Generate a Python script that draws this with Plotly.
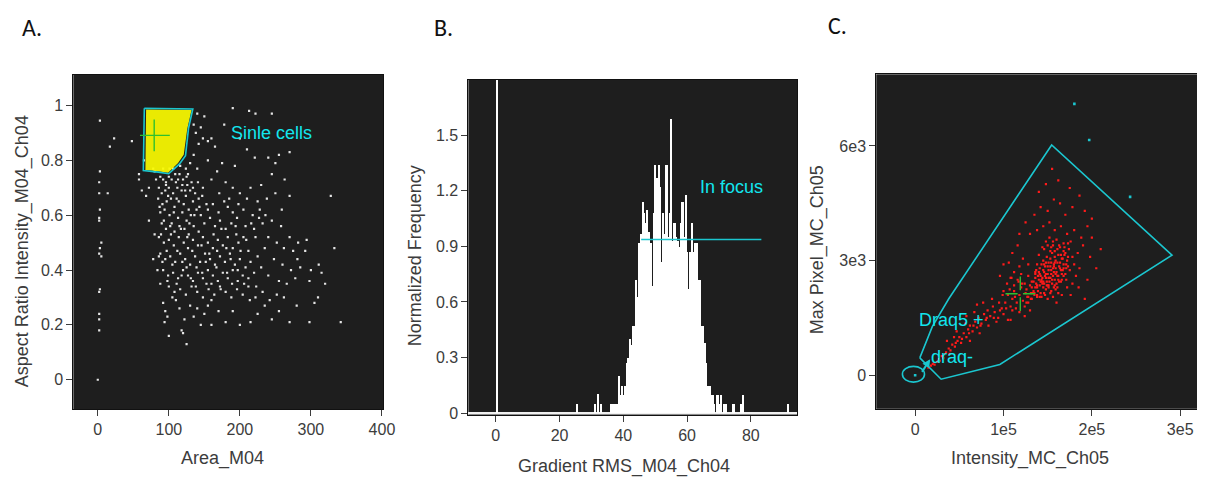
import plotly.graph_objects as go

# ---------------- Panel A data ----------------
area_white = [
    140,150,135,145,138,148,142,155,160,165,
    190,213,222,245,178,200,210,221,240,255,
    270,250,193,175,155,135,130,140,168,245,
    263,230,190,210,250,270,328,180,160,125,
    88,92,96,100,104,110,115,120,126,132,
    86,90,95,100,106,112,118,124,130,137,
    85,91,97,103,108,114,121,128,134,142,
    88,94,101,107,113,119,125,131,139,145,
    72,78,82,92,106,116,124,62,58,148,
    90,96,102,108,115,122,128,135,142,150,
    158,165,172,180,188,195,155,162,170,178,
    86,93,100,107,114,121,127,134,141,148,
    155,162,169,176,183,190,198,205,212,220,
    88,95,102,109,116,123,130,137,144,151,
    158,165,172,179,186,193,200,208,215,225,
    92,99,106,113,120,127,134,141,148,155,
    162,169,176,183,190,197,204,212,220,230,
    100,108,116,124,132,140,148,156,164,172,
    180,188,196,204,212,222,232,242,252,262,
    228,236,245,258,270,282,294,240,252,262,
    275,235,248,260,272,285,300,315,320,333,
    240,255,266,278,298,305,310,255,270,298,
    342,280,245,225,215,200,190,180,170,160,
    222,232,218,205,198,190,185,200,215,225,
    92,95,98,94,100,118,120,125,110,130,
    140,150,115,135,145,160,105,88,122,155,
    3,3,2,2,3,2,2,5,3,2,
    5,3,2,2,2,2,0,14,23,17,
    48,68,80,78,86,80,65,58,72,84,
    87,93,99,104,111,117,123,129,136,143,
    89,97,103,112,119,126,133,139,146,152,
    91,98,105,111,118,125,131,138,147,153,
    96,101,109,113,119,127,134,141,147,153,
    157,163,168,174,181,187,194,201,209,216,
    160,167,173,182,189,197,206,214,223,235,
    171,183,196,208,227,238,259,281,292,311,
]
ratio_white = [
    0.97,0.96,0.93,0.92,0.90,0.88,0.86,0.87,0.88,0.85,
    0.99,0.98,0.97,0.97,0.93,0.88,0.84,0.81,0.81,0.82,
    0.83,0.79,0.78,0.79,0.80,0.82,0.79,0.77,0.76,0.75,
    0.73,0.71,0.70,0.66,0.68,0.67,0.67,0.72,0.73,0.74,
    0.74,0.73,0.72,0.74,0.73,0.72,0.75,0.73,0.71,0.72,
    0.70,0.68,0.69,0.70,0.68,0.70,0.69,0.67,0.69,0.68,
    0.66,0.64,0.65,0.66,0.63,0.65,0.64,0.62,0.65,0.66,
    0.61,0.62,0.60,0.61,0.59,0.61,0.58,0.60,0.62,0.60,
    0.70,0.77,0.73,0.77,0.77,0.78,0.77,0.69,0.75,0.70,
    0.57,0.55,0.56,0.54,0.56,0.55,0.53,0.56,0.54,0.57,
    0.59,0.56,0.58,0.55,0.57,0.53,0.62,0.64,0.61,0.65,
    0.52,0.50,0.51,0.49,0.52,0.50,0.48,0.51,0.49,0.52,
    0.50,0.48,0.51,0.49,0.52,0.48,0.50,0.52,0.47,0.55,
    0.46,0.44,0.45,0.43,0.46,0.44,0.42,0.45,0.43,0.46,
    0.44,0.42,0.45,0.43,0.46,0.42,0.44,0.41,0.43,0.45,
    0.40,0.38,0.39,0.37,0.40,0.38,0.36,0.39,0.37,0.40,
    0.38,0.36,0.39,0.37,0.40,0.36,0.38,0.37,0.39,0.41,
    0.34,0.32,0.33,0.31,0.34,0.32,0.30,0.33,0.31,0.34,
    0.32,0.30,0.33,0.31,0.34,0.30,0.32,0.29,0.31,0.30,
    0.62,0.60,0.58,0.56,0.52,0.50,0.51,0.52,0.50,0.48,
    0.47,0.48,0.44,0.42,0.40,0.41,0.40,0.39,0.35,0.48,
    0.38,0.36,0.35,0.37,0.36,0.28,0.30,0.25,0.21,0.21,
    0.21,0.27,0.22,0.24,0.21,0.20,0.25,0.21,0.25,0.29,
    0.52,0.57,0.60,0.62,0.64,0.61,0.66,0.68,0.70,0.65,
    0.28,0.25,0.23,0.21,0.16,0.18,0.17,0.13,0.29,0.27,
    0.26,0.24,0.26,0.23,0.20,0.20,0.30,0.35,0.22,0.27,
    0.945,0.76,0.72,0.68,0.62,0.59,0.58,0.50,0.48,0.46,
    0.45,0.33,0.32,0.24,0.22,0.18,0.0,0.68,0.88,0.85,
    0.87,0.67,0.53,0.44,0.45,0.76,0.80,0.73,0.58,0.40,
    0.63,0.58,0.67,0.57,0.66,0.55,0.69,0.57,0.60,0.63,
    0.53,0.47,0.53,0.47,0.43,0.52,0.47,0.41,0.49,0.43,
    0.43,0.36,0.42,0.35,0.38,0.41,0.37,0.34,0.39,0.35,
    0.71,0.77,0.75,0.73,0.71,0.75,0.70,0.72,0.67,0.64,
    0.46,0.53,0.47,0.55,0.48,0.44,0.56,0.47,0.51,0.57,
    0.35,0.41,0.33,0.39,0.35,0.40,0.35,0.29,0.34,0.27,
    0.68,0.63,0.59,0.56,0.59,0.66,0.62,0.44,0.47,0.42,
]
# dense "single cells" population (outline of the yellow cloud)
single_area = [68, 132, 126, 121, 113, 99, 85, 67]
single_ratio = [0.985, 0.983, 0.915, 0.82, 0.79, 0.755, 0.76, 0.765]
# gate "Sinle cells"
gateA_area = [65.5, 133.8, 127.8, 123.5, 115.1, 99.8, 85.0, 64.1, 65.5]
gateA_ratio = [0.99, 0.987, 0.918, 0.817, 0.787, 0.751, 0.757, 0.763, 0.99]
meanA = (79.4, 0.891)

# ---------------- Panel B data ----------------
hist_left = [0.2, 25.5, 31.0, 32.0, 33.0,
             36.0,36.5,37.0,37.5,38.0,38.5,39.0,39.5,40.0,40.5,
             41.0,41.5,42.0,42.5,43.0,43.5,44.0,44.5,45.0,45.5,
             46.0,46.5,47.0,47.5,48.0,48.5,49.0,49.5,50.0,50.5,
             51.0,51.5,52.0,52.5,53.0,53.5,54.0,54.5,55.0,55.5,
             56.0,56.5,57.0,57.5,58.0,58.5,59.0,59.5,60.0,60.5,
             61.0,61.5,62.0,62.5,63.0,63.5,64.0,64.5,65.0,65.5,
             66.0,66.5,67.0,67.5,68.0,68.5,69.5,70.0,70.5,71.5,
             72.0,74.5,77.0,77.5,91.5]
hist_height = [3.0, 0.05, 0.05, 0.106, 0.05,
               0.05,0.05,0.05,0.05,0.05,0.20,0.10,0.15,0.10,0.15,
               0.27,0.30,0.40,0.37,0.47,0.47,0.72,0.63,0.92,0.97,
               1.14,1.08,1.03,1.10,0.98,0.92,0.69,1.08,1.34,1.27,
               1.34,1.22,0.82,1.08,0.97,1.34,0.95,1.08,1.59,0.93,
               1.03,0.95,0.93,0.90,1.03,1.14,0.95,1.18,0.87,0.67,
               0.87,1.03,0.87,0.92,0.92,0.72,0.72,0.47,0.47,0.38,
               0.27,0.15,0.15,0.10,0.10,0.05,0.10,0.05,0.10,0.05,
               0.05,0.05,0.05,0.10,0.05]
bin_w = 0.5
focus_range = (45.6, 83.3)
focus_level = 0.937

# ---------------- Panel C data (intensity in 1e3 units) ----------------
int_red_k = [
    15,18,20,22,25,27,30,32,35,38,
    40,42,45,48,50,52,55,58,60,62,
    65,68,70,72,75,78,80,82,85,88,
    90,92,95,98,100,47,57,67,77,87,
    36,44,62,73,83,94,105,110,70,58,
    102,105,108,110,112,115,118,120,122,125,
    104,108,112,116,120,124,128,132,136,138,
    114,118,124,128,132,135,138,126,130,134,
    100,96,112,118,106,122,128,110,100,116,
    140,142,144,146,148,150,152,154,156,158,
    141,143,145,147,149,151,153,155,157,159,
    139,142,145,148,151,154,157,160,162,164,
    146,150,154,158,162,166,170,168,172,175,
    136,138,140,144,148,152,156,160,164,168,
    143,147,150,153,156,159,162,165,168,171,
    174,178,176,180,182,184,186,172,166,178,
    145,149,153,157,161,163,167,151,155,159,
    137,141,146,150,154,158,161,165,169,173,
    130,138,145,152,158,165,172,180,188,195,
    135,142,150,157,164,170,178,186,192,200,
    140,148,155,162,175,125,118,210,205,195,
    190,198,185,176,160,130,124,108,192,200,
    132,134,136,138,140,142,144,146,148,150,
    152,154,156,158,160,162,164,166,168,170,
    135,139,143,147,151,155,159,163,167,171,
    137,141,145,149,153,157,161,165,169,173,
    128,133,138,143,148,153,158,163,168,173,
    126,131,136,141,146,151,156,161,166,171,
    28,33,39,46,53,61,66,74,81,89,
    96,103,107,113,117,121,127,131,109,99,
]
maxpix_red = [
    200,250,300,280,350,420,500,450,600,700,
    650,800,750,900,1000,850,1100,1000,1200,1300,
    1150,1400,1250,1500,1350,1600,1450,1700,1550,1800,
    1650,1400,1900,1750,1600,1150,1350,1650,1900,2000,
    900,1000,900,1100,1300,1500,1450,1700,1850,1550,
    1900,2100,1800,2000,2200,1900,2100,2300,1950,2150,
    2400,2550,2350,2500,2650,2400,2600,2450,2700,2300,
    1750,1650,1800,1900,2000,2150,2050,2250,2350,2200,
    2200,2600,2700,2850,2950,3050,2900,3200,2900,3400,
    2500,2600,2400,2700,2550,2650,2450,2750,2600,2500,
    2800,2900,3000,2850,3100,2950,3050,3200,2900,3000,
    2200,2150,2300,2250,2350,2200,2300,2400,2600,2800,
    3300,3400,3350,3250,3150,3050,3200,2900,3000,2750,
    2550,2900,3150,3350,3500,3600,3500,3550,3350,3450,
    2050,2100,2000,2150,2050,2250,2150,2450,2600,2500,
    3300,3100,3500,2900,2600,3200,2800,2300,2100,2400,
    2750,2450,2850,2700,2950,2450,2750,2750,2400,2800,
    2400,2350,2150,2850,2950,3100,3300,3150,3350,2850,
    3700,3800,3900,4000,3800,3900,3700,3800,3600,3900,
    4200,4400,4300,4600,4500,4200,4400,4700,4300,4100,
    4800,5000,5400,5100,4900,4000,3700,3300,2800,2500,
    3400,3100,2300,2100,1900,1700,1550,1450,2000,3600,
    2300,2450,2650,2350,2700,2450,2550,2900,2650,2350,
    2550,2650,2800,2350,2700,2500,2950,2650,2800,2650,
    2100,2600,2500,2600,2300,2500,2650,2850,3050,2900,
    2750,2650,2450,2350,2550,2850,2600,2750,3150,3100,
    2050,2150,2100,2450,2950,3250,2950,3400,3250,3450,
    1900,2000,2300,2050,2400,2550,3400,2300,2500,2800,
    380,550,560,850,950,1100,1300,1300,1500,1500,
    1700,1750,2250,2050,2450,2400,2050,2150,2550,2100,
]
int_out_k = [0, 180.2, 197.0, 243.3]
maxpix_out = [0, 7101, 6155, 4667]
gateC_int_k = [5.26, 19.4, 38.06, 154.5, 290.7, 95.9, 29.45, 5.26]
gateC_maxpix = [456, 1274, 2003, 6025, 3146, 284, -103, 456]
meanC = (119.0, 2133)

# ---------------- styling ----------------
BG = "#1e1e1e"
CYAN_LINE = "#1bc6cf"
CYAN_TEXT = "#12e6ee"
GREEN = "#2fc02f"
TXT = "#3c3c3c"
SANS = "'Liberation Sans', Arial, sans-serif"
TICKFONT = dict(family=SANS, size=16, color=TXT)

fig = go.Figure()

# Panel A
fig.add_trace(go.Scatter(x=area_white, y=ratio_white, mode="markers", xaxis="x", yaxis="y",
                         marker=dict(color="#e4e4e4", size=2.2, symbol="square"), hoverinfo="skip"))
fig.add_trace(go.Scatter(x=single_area, y=single_ratio, mode="lines", fill="toself",
                         fillcolor="rgba(250,250,0,0.93)", line=dict(width=0), xaxis="x", yaxis="y",
                         hoverinfo="skip"))
fig.add_trace(go.Scatter(x=gateA_area, y=gateA_ratio, mode="lines", xaxis="x", yaxis="y",
                         line=dict(color=CYAN_LINE, width=1.6), hoverinfo="skip"))
fig.add_trace(go.Scatter(x=[meanA[0] - 20, meanA[0] + 22, None, meanA[0], meanA[0]],
                         y=[meanA[1], meanA[1], None, meanA[1] - 0.058, meanA[1] + 0.058],
                         mode="lines", xaxis="x", yaxis="y", line=dict(color=GREEN, width=1.4),
                         hoverinfo="skip"))

# Panel B
fig.add_trace(go.Bar(x=[l + bin_w / 2 for l in hist_left], y=hist_height, width=[bin_w] * len(hist_left),
                     marker=dict(color="#ffffff", line=dict(width=0)), xaxis="x2", yaxis="y2",
                     hoverinfo="skip"))
fig.add_trace(go.Scatter(x=list(focus_range), y=[focus_level, focus_level], mode="lines",
                         xaxis="x2", yaxis="y2", line=dict(color=CYAN_LINE, width=1.6), hoverinfo="skip"))

# Panel C
fig.add_trace(go.Scatter(x=[v * 1000 for v in int_red_k], y=maxpix_red, mode="markers", xaxis="x3", yaxis="y3",
                         marker=dict(color="#ff1a1a", size=2.2, symbol="square"), hoverinfo="skip"))
fig.add_trace(go.Scatter(x=[v * 1000 for v in int_out_k], y=maxpix_out, mode="markers", xaxis="x3", yaxis="y3",
                         marker=dict(color=CYAN_LINE, size=2.6, symbol="square"), hoverinfo="skip"))
fig.add_trace(go.Scatter(x=[v * 1000 for v in gateC_int_k], y=gateC_maxpix, mode="lines", xaxis="x3", yaxis="y3",
                         line=dict(color=CYAN_LINE, width=1.6), hoverinfo="skip"))
cx, cy = meanC[0] * 1000, meanC[1]
fig.add_trace(go.Scatter(x=[cx - 16800, cx - 3000, None, cx + 3000, cx + 16800, None, cx, cx, None, cx, cx],
                         y=[cy, cy, None, cy, cy, None, cy - 450, cy - 90, None, cy + 90, cy + 450],
                         mode="lines", xaxis="x3", yaxis="y3", line=dict(color=GREEN, width=1.4),
                         hoverinfo="skip"))

fig.add_shape(type="circle", xref="x3", yref="y3", x0=-14400, x1=10600, y0=-180, y1=232,
              line=dict(color=CYAN_LINE, width=1.6))


def axis(domain, rng, anchor, tickvals, ticktext=None):
    d = dict(domain=domain, range=rng, anchor=anchor, showgrid=False, zeroline=False,
             showline=True, mirror=True, linecolor="#111111", linewidth=1,
             ticks="outside", ticklen=6, tickcolor=TXT, tickwidth=1,
             tickfont=TICKFONT, tickvals=tickvals)
    if ticktext is not None:
        d["ticktext"] = ticktext
    return d


W, H = 1205, 482
fig.update_layout(
    width=W, height=H, margin=dict(l=0, r=0, t=0, b=0),
    paper_bgcolor="white", plot_bgcolor=BG, showlegend=False, bargap=0,
    font=dict(family=SANS, color=TXT),
    xaxis=axis([66 / W, 379 / W], [-34.4, 401.8], "y", [0, 100, 200, 300, 400]),
    yaxis=axis([1 - 407 / H, 1 - 68 / H], [-0.107, 1.111], "x", [0, 0.2, 0.4, 0.6, 0.8, 1],
               ["0", "0.2", "0.4", "0.6", "0.8", "1"]),
    xaxis2=axis([465 / W, 797 / W], [-8.6, 94.5], "y2", [0, 20, 40, 60, 80]),
    yaxis2=axis([1 - 412.5 / H, 1 - 72.7 / H], [-0.008, 1.80], "x2", [0, 0.3, 0.6, 0.9, 1.2, 1.5],
                ["0", "0.3", "0.6", "0.9", "1.2", "1.5"]),
    xaxis3=axis([877 / W, 1204 / W], [-44000, 322400], "y3", [0, 1e5, 2e5, 3e5], ["0", "1e5", "2e5", "3e5"]),
    yaxis3=axis([1 - 406.7 / H, 1 - 67.3 / H], [-877, 7875], "x3", [0, 3000, 6000], ["0", "3e3", "6e3"]),
)
fig.layout.yaxis2.zeroline = True
fig.layout.yaxis2.zerolinecolor = "#f0f0f0"
fig.layout.yaxis2.zerolinewidth = 2


def pann(text, px, py, size=18, angle=0, color=TXT, family=SANS):
    fig.add_annotation(text=text, x=px / W, y=1 - py / H, xref="paper", yref="paper",
                       showarrow=False, textangle=angle, font=dict(size=size, color=color, family=family),
                       xanchor="center", yanchor="middle")


LETTER = "Carlito, 'Open Sans', sans-serif"
pann("A.", 24, 20, size=24, color="#111111", family=LETTER)
pann("B.", 440, 20, size=24, color="#111111", family=LETTER)
pann("C.", 838, 18, size=24, color="#111111", family=LETTER)
# axis titles
pann("Area_M04", 217, 457)
pann("Aspect Ratio Intensity_M04_Ch04", 15, 247, angle=-90)
pann("Gradient RMS_M04_Ch04", 622, 465)
pann("Normalized Frequency", 411, 251, angle=-90)
pann("Intensity_MC_Ch05", 1032, 457)
pann("Max Pixel_MC_Ch05", 818, 245, angle=-90)

# gate labels
GATEFONT = dict(size=18, color=CYAN_TEXT, family=SANS)
fig.add_annotation(text="Sinle cells", x=245, y=0.90, xref="x", yref="y", showarrow=False, font=GATEFONT)
fig.add_annotation(text="In focus", x=73.8, y=1.22, xref="x2", yref="y2", showarrow=False, font=GATEFONT)
fig.add_annotation(text="Draq5 +", x=40600, y=1444, xref="x3", yref="y3", showarrow=False, font=GATEFONT)
fig.add_annotation(text="draq-", x=41400, y=482, xref="x3", yref="y3", showarrow=False, font=GATEFONT)
fig.add_annotation(text="", x=17000, y=420, ax=6700, ay=50, xref="x3", yref="y3", axref="x3", ayref="y3",
                   showarrow=True, arrowhead=2, arrowsize=0.8, arrowwidth=2, arrowcolor=CYAN_LINE)

fig.write_html("out.html")
